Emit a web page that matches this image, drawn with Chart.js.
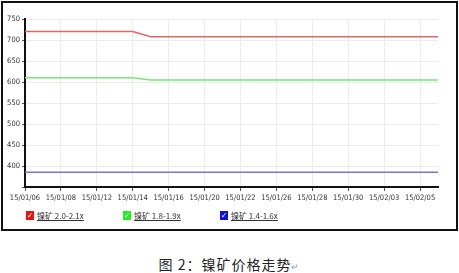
<!DOCTYPE html>
<html lang="zh">
<head>
<meta charset="UTF-8">
<title>镍矿价格走势</title>
<style>
    body { margin: 0; width: 459px; height: 273px; background: #fff; position: relative; overflow: hidden; }
    .box { position: absolute; left: 1px; top: 1px; width: 453px; height: 226px; border: 2px solid #111; }
    .chart { position: absolute; left: 0; top: 0; width: 459px; height: 230px; }
    .legend { position: absolute; top: 210px; left: 0; font-family: "Noto Sans CJK SC", sans-serif; font-size: 8px; color: #333; }
    .item { position: absolute; white-space: nowrap; display: flex; align-items: center; }
    .chk { width: 8px; height: 9px; color: #fff; font-size: 8px; line-height: 9px; text-align: center; margin-right: 3px; font-family: "DejaVu Sans", sans-serif; }
    .item span.t { text-decoration: underline; }
    .caption { position: absolute; top: 254px; left: 0; width: 459px; text-align: center; font-family: "Noto Sans CJK SC", sans-serif; font-size: 14px; color: #222; letter-spacing: 1px; }
    .caption small { color: #999; font-size: 9px; }
</style>
<script src="https://cdn.jsdelivr.net/npm/chart.js"></script>
</head>
<body>
<div class="chart"><canvas id="c" width="459" height="230"></canvas></div>
<div class="box"></div>
<div class="legend" id="legend"></div>
<div class="caption">图 2：镍矿价格走势<small>↵</small></div>
<script>
    // trading days, every second one gets a label
    const dates = ['15/01/06', '15/01/07', '15/01/08', '15/01/09', '15/01/12', '15/01/13', '15/01/14', '15/01/15',
        '15/01/16', '15/01/19', '15/01/20', '15/01/21', '15/01/22', '15/01/23', '15/01/26', '15/01/27',
        '15/01/28', '15/01/29', '15/01/30', '15/02/02', '15/02/03', '15/02/04', '15/02/05', '15/02/06'];
    const seriesNames = ['镍矿 2.0-2.1x', '镍矿 1.8-1.9x', '镍矿 1.4-1.6x'];
    const lineColors = ['#e06666', '#77e877', '#7777cc'];
    const boxColors = ['#ee1111', '#22ee22', '#1111dd'];
    const high = [720, 720, 720, 720, 720, 720, 720, 708, 708, 708, 708, 708, 708, 708, 708, 708, 708, 708, 708, 708, 708, 708, 708, 708];
    const mid = [610, 610, 610, 610, 610, 610, 610, 605, 605, 605, 605, 605, 605, 605, 605, 605, 605, 605, 605, 605, 605, 605, 605, 605];
    const low = [385, 385, 385, 385, 385, 385, 385, 385, 385, 385, 385, 385, 385, 385, 385, 385, 385, 385, 385, 385, 385, 385, 385, 385];
    const yMin = 350, yMax = 750, yStep = 50;

    const values = [high, mid, low];
    const shown = i => i % 2 === 0;

    new Chart(document.getElementById('c'), {
        type: 'line',
        data: {
            labels: dates,
            datasets: values.map((v, i) => ({
                label: seriesNames[i],
                data: v,
                borderColor: lineColors[i],
                borderWidth: 1.5,
                pointRadius: 0,
                tension: 0,
                fill: false
            }))
        },
        options: {
            responsive: false,
            animation: false,
            layout: { padding: { left: 3, top: 19, right: 21, bottom: 21 } },
            plugins: { legend: { display: false }, tooltip: { enabled: false } },
            scales: {
                x: {
                    afterFit: s => { s.height = 22; },
                    border: { color: '#111', width: 2 },
                    grid: {
                        color: c => shown(c.index) ? '#ececec' : 'transparent',
                        tickColor: c => shown(c.index) ? '#555' : 'transparent',
                        tickLength: 4
                    },
                    ticks: {
                        autoSkip: false,
                        maxRotation: 0,
                        padding: 3,
                        color: '#333',
                        font: { family: 'DejaVu Sans Condensed', size: 7.5 },
                        callback: (v, i) => shown(i) ? dates[i] : ''
                    }
                },
                y: {
                    min: yMin,
                    max: yMax,
                    afterFit: s => { s.width = 22; },
                    border: { color: '#111', width: 2 },
                    grid: { color: '#ececec', tickColor: '#555', tickLength: 3 },
                    ticks: {
                        stepSize: yStep,
                        padding: 2,
                        color: '#333',
                        font: { family: 'DejaVu Sans Condensed', size: 7.5 },
                        callback: v => v === yMin ? '' : v
                    }
                }
            }
        }
    });

    // legend built from the series names
    const legendX = [26, 123, 220];
    const legend = document.getElementById('legend');
    seriesNames.forEach((name, i) => {
        const el = document.createElement('div');
        el.className = 'item';
        el.style.left = legendX[i] + 'px';
        el.innerHTML = '<div class="chk" style="background:' + boxColors[i] + '">✓</div><span class="t">' + name + '</span>';
        legend.appendChild(el);
    });
</script>
</body>
</html>
